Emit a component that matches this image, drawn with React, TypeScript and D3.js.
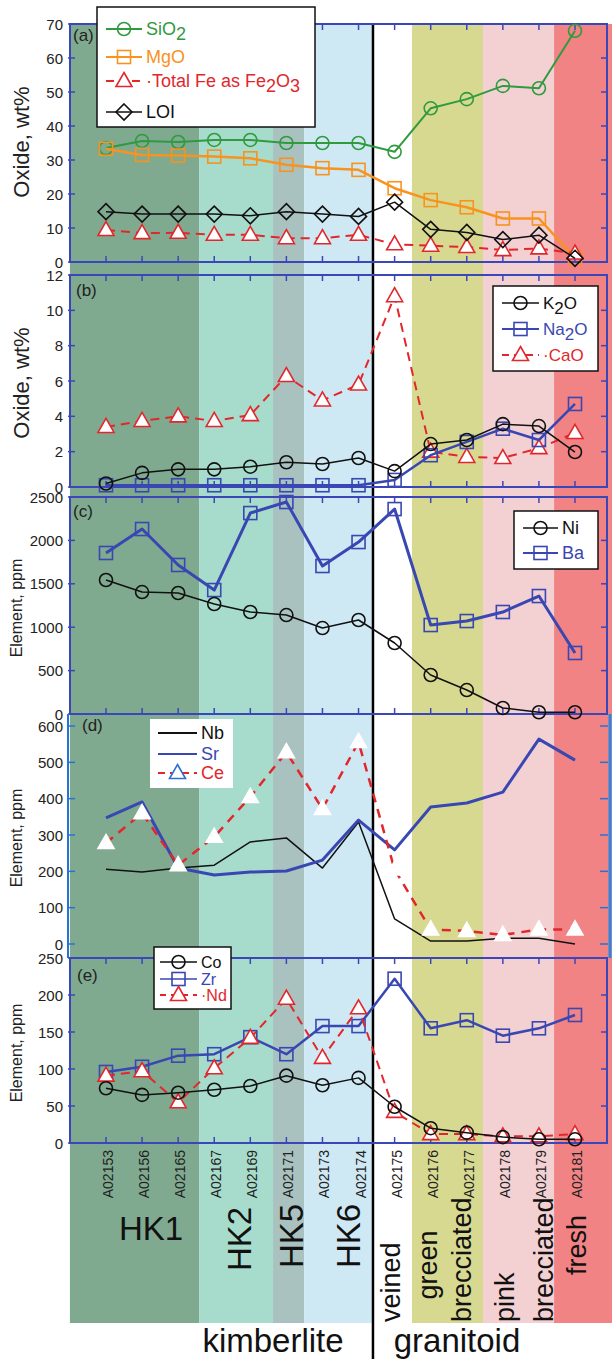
import * as d3 from "d3";

const samples = ["A02153", "A02156", "A02165", "A02167", "A02169", "A02171", "A02173", "A02174", "A02175", "A02176", "A02177", "A02178", "A02179", "A02181"];

// (a) major oxides, wt%
const siO2 = [33.5, 35.6, 35.3, 35.9, 35.9, 35.0, 35.0, 35.0, 32.4, 45.2, 47.9, 51.8, 51.1, 68.0];
const mgO = [33.3, 31.5, 31.3, 31.0, 30.5, 28.6, 27.6, 27.1, 21.7, 18.2, 16.1, 12.8, 12.8, 1.2];
const fe2O3 = [9.4, 8.5, 8.6, 8.0, 8.0, 7.0, 7.0, 8.0, 5.2, 4.8, 4.4, 3.5, 4.0, 2.5];
const loi = [14.8, 14.1, 14.1, 14.1, 13.6, 14.8, 14.1, 13.4, 17.6, 9.6, 8.7, 6.6, 7.9, 1.1];

// (b) alkalis + CaO, wt%
const k2O = [0.2, 0.8, 1.0, 1.0, 1.15, 1.4, 1.3, 1.64, 0.9, 2.43, 2.66, 3.56, 3.45, 1.98];
const na2O = [0.1, 0.1, 0.1, 0.1, 0.1, 0.1, 0.1, 0.1, 0.4, 1.8, 2.55, 3.3, 2.66, 4.7];
const caO = [3.4, 3.74, 4.0, 3.74, 4.07, 6.28, 4.9, 5.8, 10.8, 2.0, 1.7, 1.64, 2.2, 3.06];

// (c) ppm
const ni = [1544, 1405, 1394, 1267, 1175, 1140, 990, 1083, 818, 449, 276, 69, 20, 20];
const ba = [1855, 2131, 1717, 1428, 2315, 2442, 1705, 1981, 2361, 1025, 1071, 1175, 1359, 703];

// (d) ppm
const nb = [206, 198, 209, 217, 281, 292, 209, 336, 69, 8, 8, 16, 16, 0];
const sr = [347, 391, 209, 190, 198, 201, 231, 341, 259, 377, 388, 418, 564, 506];
const ce = [278, 360, 217, 295, 405, 528, 372, 556, 205, 40, 36, 25, 40, 40];

// (e) ppm
const co = [74, 65, 68, 72, 77, 91, 78, 88, 49, 20, 14, 8, 5, 5];
const zr = [96, 103, 118, 120, 143, 120, 158, 158, 222, 155, 166, 145, 155, 173];
const nd = [91, 97, 55, 101, 142, 195, 115, 182, 42, 12, 12, 9, 9, 12];

// rock-type zones, boundaries in sample-index units
const zoneNames = ["HK1", "HK2", "HK5", "HK6", "veined", "green brecciated", "pink brecciated", "fresh"];
const zoneEdges = [-1, 2.58, 4.63, 5.49, 7.37, 8.48, 10.45, 12.42, 14.2];
const zoneColors = ["#80aa90", "#a7dccc", "#a9c2c0", "#cfe9f4", "#ffffff", "#d8d991", "#f3d1d3", "#f18384"];

const FONT = "'Liberation Sans', Arial, Helvetica, sans-serif";
const AXIS = "#3b47b8";
const GREEN = "#2f9a3e";
const ORANGE = "#f7931e";
const RED = "#e2272c";
const BLUE = "#3947b2";
const BLACK = "#111";

const x = d3.scaleLinear().domain([0, 13]).range([106, 575]);
const LEFT = 70;
const RIGHT = 607;

type Series = { values: number[]; color: string; width: number; dash?: string; marker?: string; fill?: string; stroke?: string };

function Marker({ type, cx, cy, color, fill }: { type: string; cx: number; cy: number; color: string; fill?: string }) {
  const f = fill ?? "none";
  if (type === "circle") return <circle cx={cx} cy={cy} r={6.5} fill={f} stroke={color} strokeWidth={1.6} />;
  if (type === "square") return <rect x={cx - 6.5} y={cy - 6.5} width={13} height={13} fill={f} stroke={color} strokeWidth={1.6} />;
  if (type === "diamond")
    return <polygon points={`${cx},${cy - 8} ${cx + 8},${cy} ${cx},${cy + 8} ${cx - 8},${cy}`} fill={f} stroke={color} strokeWidth={1.6} />;
  if (type === "triangle")
    return <polygon points={`${cx},${cy - 8.5} ${cx + 8},${cy + 5.5} ${cx - 8},${cy + 5.5}`} fill={f} stroke={color} strokeWidth={1.6} />;
  return null;
}

function Panel({ top, bottom, max, step, series, label, labelX, labelY, frame = true }: any) {
  const y = d3.scaleLinear().domain([0, max]).range([bottom, top]);
  const ticks = d3.range(0, max + step / 2, step);
  const line = d3.line<number>().x((_, i) => x(i)).y((v) => y(v));
  return (
    <g>
      {frame && (
        <g>
          <rect x={LEFT} y={top} width={RIGHT - LEFT} height={bottom - top} fill="none" stroke={AXIS} strokeWidth={2} />
          {samples.map((s, i) => (
            <g key={s}>
              <line x1={x(i)} x2={x(i)} y1={bottom} y2={bottom - 6} stroke={AXIS} strokeWidth={1.5} />
              <line x1={x(i)} x2={x(i)} y1={top} y2={top + 6} stroke={AXIS} strokeWidth={1.5} />
            </g>
          ))}
          {ticks.map((t) => (
            <g key={t}>
              <line x1={LEFT - 2} x2={LEFT + 5} y1={y(t)} y2={y(t)} stroke={AXIS} strokeWidth={1.5} />
              <line x1={RIGHT} x2={RIGHT - 6} y1={y(t)} y2={y(t)} stroke={AXIS} strokeWidth={1.5} />
            </g>
          ))}
        </g>
      )}
      {ticks.map((t) => (
        <text key={"l" + t} x={63} y={y(t)} textAnchor="end" dominantBaseline="central" fontSize={15} fill="#222">
          {t}
        </text>
      ))}
      <text x={labelX} y={labelY} fontSize={17} fill="#222">
        {label}
      </text>
      {series.map((s: Series, k: number) => (
        <g key={k}>
          <path d={line(s.values) ?? ""} fill="none" stroke={s.color} strokeWidth={s.width} strokeDasharray={s.dash} strokeLinejoin="round" />
          {s.marker &&
            s.values.map((v, i) => <Marker key={i} type={s.marker!} cx={x(i)} cy={y(v)} color={s.stroke ?? s.color} fill={s.fill} />)}
        </g>
      ))}
    </g>
  );
}

function LegendRow({ x0, x1, cy, color, dash, marker, mColor, mFill, width, children, textColor, fs }: any) {
  const mid = (x0 + x1) / 2;
  return (
    <g>
      <line x1={x0} x2={x1} y1={cy} y2={cy} stroke={color} strokeWidth={width} strokeDasharray={dash} />
      {marker && <Marker type={marker} cx={mid} cy={cy} color={mColor ?? color} fill={mFill} />}
      <text x={x1 + 4} y={cy} dy="0.36em" fontSize={fs} fill={textColor}>
        {children}
      </text>
    </g>
  );
}

const Sub = ({ t }: { t: string }) => <tspan baselineShift="-30%">{t}</tspan>;

export default function App() {
  const zoneY0 = 24;
  const zoneY1 = 1323;
  return (
    <svg width={612} height={1359} style={{ position: "absolute", left: 0, top: 0, background: "#fff" }} fontFamily={FONT}>
      {/* rock zones */}
      {zoneNames.map((z, i) => (
        <rect key={z} x={x(zoneEdges[i])} y={zoneY0} width={x(zoneEdges[i + 1]) - x(zoneEdges[i])} height={zoneY1 - zoneY0} fill={zoneColors[i]} />
      ))}
      <line x1={x(7.4)} x2={x(7.4)} y1={24} y2={1359} stroke="#000" strokeWidth={2.5} />

      {/* (a) */}
      <Panel
        top={24}
        bottom={262}
        max={70}
        step={10}
        label="(a)"
        labelX={73}
        labelY={41}
        series={[
          { values: siO2, color: GREEN, width: 2, marker: "circle" },
          { values: mgO, color: ORANGE, width: 2.5, marker: "square" },
          { values: fe2O3, color: RED, width: 2, dash: "9,6", marker: "triangle", fill: "#fff" },
          { values: loi, color: BLACK, width: 1.5, marker: "diamond" },
        ]}
      />
      {/* (b) */}
      <Panel
        top={275}
        bottom={487}
        max={12}
        step={2}
        label="(b)"
        labelX={76}
        labelY={296}
        series={[
          { values: caO, color: RED, width: 2, dash: "9,6", marker: "triangle", fill: "#fff" },
          { values: na2O, color: BLUE, width: 2.5, marker: "square" },
          { values: k2O, color: BLACK, width: 1.5, marker: "circle" },
        ]}
      />
      {/* (c) */}
      <Panel
        top={497}
        bottom={714}
        max={2500}
        step={500}
        label="(c)"
        labelX={73}
        labelY={517}
        series={[
          { values: ba, color: BLUE, width: 3, marker: "square" },
          { values: ni, color: BLACK, width: 1.5, marker: "circle" },
        ]}
      />
      {/* (d) */}
      <g>
        <line x1={68} x2={68} y1={714} y2={958} stroke="#2a72d2" strokeWidth={2} />
        <line x1={610} x2={610} y1={714} y2={958} stroke="#2a86e0" strokeWidth={3} />
        {d3.range(0, 601, 100).map((t) => {
          const yy = d3.scaleLinear().domain([0, 600]).range([944, 726])(t);
          return (
            <g key={t}>
              <line x1={68} x2={75} y1={yy} y2={yy} stroke="#2a72d2" strokeWidth={1.5} />
              <line x1={608} x2={600} y1={yy} y2={yy} stroke="#2a72d2" strokeWidth={1.5} />
            </g>
          );
        })}
      </g>
      <Panel
        top={726}
        bottom={944}
        max={600}
        step={100}
        frame={false}
        label="(d)"
        labelX={82}
        labelY={731}
        series={[
          { values: nb, color: BLACK, width: 1.5 },
          { values: sr, color: BLUE, width: 3 },
          { values: ce, color: RED, width: 2.5, dash: "9,7", marker: "triangle", fill: "#fff", stroke: "#fff" },
        ]}
      />
      {/* (e) */}
      <Panel
        top={958}
        bottom={1143}
        max={250}
        step={50}
        label="(e)"
        labelX={77}
        labelY={981}
        series={[
          { values: zr, color: BLUE, width: 2.5, marker: "square" },
          { values: nd, color: RED, width: 2, dash: "9,6", marker: "triangle", fill: "#fff" },
          { values: co, color: BLACK, width: 1.5, marker: "circle" },
        ]}
      />

      {/* y titles */}
      <text transform="translate(29,142) rotate(-90)" textAnchor="middle" fontSize={22} fill="#222">Oxide, wt%</text>
      <text transform="translate(29,383) rotate(-90)" textAnchor="middle" fontSize={22} fill="#222">Oxide, wt%</text>
      <text transform="translate(22,608) rotate(-90)" textAnchor="middle" fontSize={16} fill="#222">Element, ppm</text>
      <text transform="translate(22,838) rotate(-90)" textAnchor="middle" fontSize={16} fill="#222">Element, ppm</text>
      <text transform="translate(22,1053) rotate(-90)" textAnchor="middle" fontSize={16} fill="#222">Element, ppm</text>

      {/* legends */}
      <g>
        <rect x={97} y={7} width={218} height={120} fill="#fff" stroke="#111" strokeWidth={1.5} />
        <LegendRow x0={106} x1={142} cy={29} color={GREEN} width={2} marker="circle" textColor={GREEN} fs={18}>
          SiO<Sub t="2" />
        </LegendRow>
        <LegendRow x0={106} x1={142} cy={57} color={ORANGE} width={2} marker="square" textColor={ORANGE} fs={18}>
          MgO
        </LegendRow>
        <LegendRow x0={106} x1={142} cy={81} color={RED} width={2} dash="8,5" marker="triangle" mFill="#fff" textColor={RED} fs={18}>
          {"\u00b7Total Fe as Fe"}
          <Sub t="2" />
          <tspan>O</tspan>
          <Sub t="3" />
        </LegendRow>
        <LegendRow x0={106} x1={142} cy={112} color={BLACK} width={1.5} marker="diamond" textColor={BLACK} fs={18}>
          LOI
        </LegendRow>
      </g>
      <g>
        <rect x={493} y={286} width={105} height={85} fill="#fff" stroke="#111" strokeWidth={1.5} />
        <LegendRow x0={502} x1={539} cy={303} color={BLACK} width={1.5} marker="circle" textColor={BLACK} fs={17}>
          K<Sub t="2" />
          <tspan>O</tspan>
        </LegendRow>
        <LegendRow x0={502} x1={539} cy={329} color={BLUE} width={2} marker="square" textColor={BLUE} fs={17}>
          Na<Sub t="2" />
          <tspan>O</tspan>
        </LegendRow>
        <LegendRow x0={502} x1={539} cy={355} color={RED} width={2} dash="7,5" marker="triangle" mFill="#fff" textColor={RED} fs={17}>
          {"\u00b7CaO"}
        </LegendRow>
      </g>
      <g>
        <rect x={514} y={511} width={84} height={58} fill="#fff" stroke="#111" strokeWidth={1.5} />
        <LegendRow x0={523} x1={558} cy={528} color={BLACK} width={1.5} marker="circle" textColor={BLACK} fs={18}>
          Ni
        </LegendRow>
        <LegendRow x0={523} x1={558} cy={553} color={BLUE} width={2} marker="square" textColor={BLUE} fs={18}>
          Ba
        </LegendRow>
      </g>
      <g>
        <rect x={150} y={719} width={83} height={69} fill="#fff" />
        <LegendRow x0={158} x1={197} cy={733} color={BLACK} width={1.8} textColor={BLACK} fs={18}>
          Nb
        </LegendRow>
        <LegendRow x0={158} x1={197} cy={754} color={BLUE} width={1.8} textColor={BLUE} fs={18}>
          Sr
        </LegendRow>
        <LegendRow x0={158} x1={197} cy={773} color={RED} width={2} dash="7,5" marker="triangle" mColor="#2a72d2" mFill="#fff" textColor={RED} fs={18}>
          Ce
        </LegendRow>
      </g>
      <g>
        <rect x={154} y={947} width={77} height={62} fill="#fff" stroke="#111" strokeWidth={1.5} />
        <LegendRow x0={160} x1={197} cy={962} color={BLACK} width={1.5} marker="circle" textColor={BLACK} fs={16}>
          Co
        </LegendRow>
        <LegendRow x0={160} x1={197} cy={979} color={BLUE} width={1.5} marker="square" textColor={BLUE} fs={16}>
          Zr
        </LegendRow>
        <LegendRow x0={160} x1={197} cy={995} color={RED} width={2} dash="6,5" marker="triangle" mFill="#fff" textColor={RED} fs={16}>
          {"\u00b7Nd"}
        </LegendRow>
      </g>

      {/* sample labels */}
      {samples.map((s, i) => (
        <text key={s} transform={`translate(${x(i) + 7},1150) rotate(-90)`} textAnchor="end" fontSize={14} fill="#222">
          {s}
        </text>
      ))}

      {/* zone names */}
      <text x={151} y={1240} textAnchor="middle" fontSize={33} fill="#111">HK1</text>
      <text transform="translate(251,1239) rotate(-90)" textAnchor="middle" fontSize={33} fill="#111">HK2</text>
      <text transform="translate(303,1236) rotate(-90)" textAnchor="middle" fontSize={33} fill="#111">HK5</text>
      <text transform="translate(360,1236) rotate(-90)" textAnchor="middle" fontSize={33} fill="#111">HK6</text>
      <text transform="translate(400,1322) rotate(-90)" fontSize={27} fill="#111">veined</text>
      <text transform="translate(437,1265) rotate(-90)" textAnchor="middle" fontSize={27} fill="#111">green</text>
      <text transform="translate(471,1322) rotate(-90)" fontSize={27} fill="#111">brecciated</text>
      <text transform="translate(514,1322) rotate(-90)" fontSize={27} fill="#111">pink</text>
      <text transform="translate(553,1322) rotate(-90)" fontSize={27} fill="#111">brecciated</text>
      <text transform="translate(586,1245) rotate(-90)" textAnchor="middle" fontSize={27} fill="#111">fresh</text>

      <text x={273} y={1352} textAnchor="middle" fontSize={33} fill="#111">kimberlite</text>
      <text x={457} y={1352} textAnchor="middle" fontSize={33} fill="#111">granitoid</text>
    </svg>
  );
}
